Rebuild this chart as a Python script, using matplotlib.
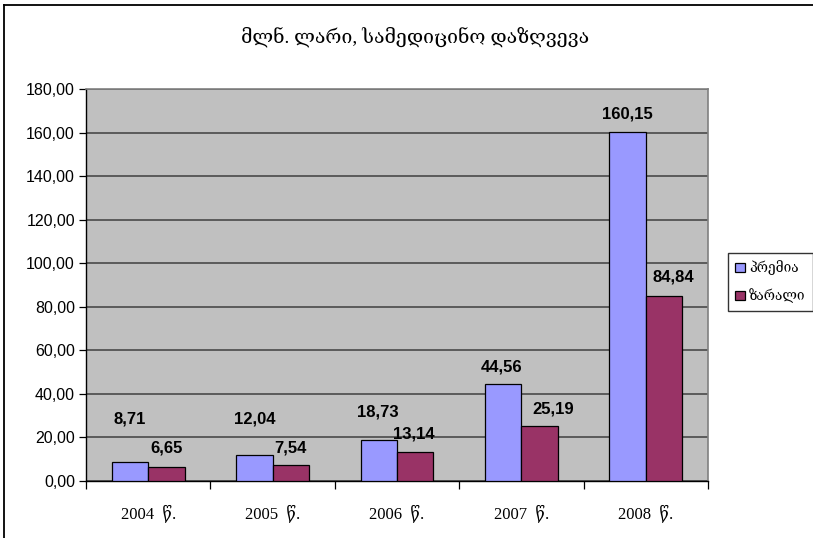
import numpy as np
import matplotlib
matplotlib.use("Agg")
import matplotlib.pyplot as plt
from matplotlib.lines import Line2D

# Medical insurance, million GEL: premiums vs. losses
years = ["2004", "2005", "2006", "2007", "2008"]
premium = [8.71, 12.04, 18.73, 44.56, 160.15]
losses = [6.65, 7.54, 13.14, 25.19, 84.84]
series_names = ["პრემია", "ზარალი"]
title = "მლნ. ლარი, სამედიცინო დაზღვევა"

# label offsets (points) from the top of each bar
prem_off = [(0, 31), (0, 26), (-1, 20), (-1, 12), (0, 13)]
loss_off = [(0, 13), (0, 12), (-1, 13), (10, 12), (7, 14)]

serif = ["Liberation Serif", "DejaVu Serif", "DejaVu Sans"]
sans = ["Liberation Sans", "DejaVu Sans"]

def fmt(v):
    return f"{v:.2f}".replace(".", ",")

fig = plt.figure(figsize=(8.13, 5.38), dpi=100)
ax = fig.add_axes([86 / 813, 57 / 538, 622 / 813, 392 / 538])
ax.set_facecolor("#C0C0C0")

x = np.arange(len(years))
w = 0.293
b1 = ax.bar(x - w / 2, premium, w, color="#9999FF", edgecolor="black", linewidth=0.9,
            label=series_names[0], zorder=3)
b2 = ax.bar(x + w / 2, losses, w, color="#993366", edgecolor="black", linewidth=0.9,
            label=series_names[1], zorder=3)

for bars, vals, offs in ((b1, premium, prem_off), (b2, losses, loss_off)):
    for rect, v, (dx, dy) in zip(bars, vals, offs):
        ax.annotate(fmt(v), (rect.get_x() + rect.get_width() / 2, v),
                    xytext=(dx, dy), textcoords="offset points",
                    ha="center", va="center", fontsize=12, fontweight="bold",
                    family=sans, zorder=4)

ax.set_ylim(0, 180)
ax.set_xlim(-0.5, len(years) - 0.5)
ax.set_yticks(np.arange(0, 181, 20))
ax.set_yticklabels([fmt(v) for v in np.arange(0, 181, 20)], family=sans, fontsize=11.5)
ax.yaxis.grid(True, color="#404040", linewidth=1.1, zorder=1)
ax.set_axisbelow(True)
ax.tick_params(axis="y", direction="out", length=5, width=0.9, pad=3)

ax.set_xticks(x)
ax.set_xticklabels([f"{y}  წ." for y in years], family=serif, fontsize=12)
ax.set_xticks(np.arange(-0.5, len(years)), minor=True)
ax.tick_params(axis="x", which="major", length=0, pad=17)
ax.tick_params(axis="x", which="minor", direction="out", length=6, width=0.9)

for side in ("left", "bottom"):
    ax.spines[side].set_color("black")
    ax.spines[side].set_linewidth(1.0)
for side in ("top", "right"):
    ax.spines[side].set_color("#808080")
    ax.spines[side].set_linewidth(1.2)

fig.text(0.51, 1 - 37 / 538, title, ha="center", va="center", fontsize=14, family=serif)

leg = fig.legend(handles=[b1, b2], loc="upper left", bbox_to_anchor=(728 / 813, 1 - 253 / 538),
                 prop={"family": serif, "size": 9.8}, frameon=True, fancybox=False,
                 edgecolor="black", handlelength=0.7, handleheight=0.7, handletextpad=0.3,
                 labelspacing=0.95, borderpad=0.55, borderaxespad=0)
leg.get_frame().set_linewidth(1.0)

# chart area border (left and top edges)
fig.add_artist(Line2D([4 / 813, 4 / 813], [0, 1 - 5 / 538], transform=fig.transFigure,
                      color="black", linewidth=1.3))
fig.add_artist(Line2D([4 / 813, 1], [1 - 5 / 538, 1 - 5 / 538], transform=fig.transFigure,
                      color="black", linewidth=1.3))

fig.savefig("out.png", dpi=100)
